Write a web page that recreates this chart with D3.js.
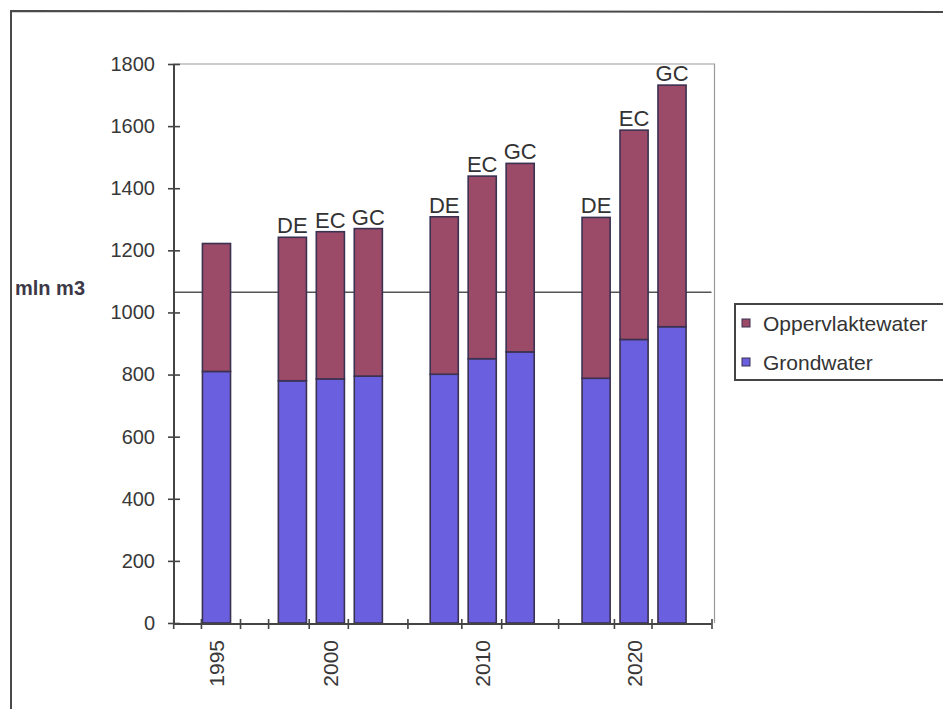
<!DOCTYPE html>
<html>
<head>
<meta charset="utf-8">
<script src="https://cdn.jsdelivr.net/npm/d3@7"></script>
<style>
  html, body { margin: 0; padding: 0; background: #fff; }
  svg { display: block; font-family: "Liberation Sans", Arial, sans-serif; }
</style>
</head>
<body>
<svg id="chart" width="943" height="709"></svg>
<script>
// Water demand per scenario (mln m3); empty slots separate the year groups.
const years      = ["1995", "", "", "2000", "", "", "", "2010", "", "", "", "2020", ""];
const scenarios  = ["", "", "DE", "EC", "GC", "", "DE", "EC", "GC", "", "DE", "EC", "GC"];
const grondwater = [810, null, 780, 786, 795, null, 801, 851, 873, null, 788, 913, 954];
const oppervlaktewater = [412, null, 462, 474, 475, null, 507, 588, 607, null, 518, 674, 778];
const yTicks = [0, 200, 400, 600, 800, 1000, 1200, 1400, 1600, 1800];
// x-axis tick marks, in category-slot units
const xTicks = [-0.64, 0.09, 1.12, 1.86, 2.93, 3.96, 5.53, 6.95, 8.0, 9.5, 10.97, 11.96, 13.54];
const referenceLevel = 1065;
const seriesNames = ["Oppervlaktewater", "Grondwater"];
const seriesColors = ["#9b4a68", "#6a5fde"];

const svg = d3.select("#chart");
const n = years.length;

const plotLeft = 197.5, plotRight = 691;
const slot = d3.scaleLinear().domain([0, n]).range([plotLeft, plotRight]);
const x = d3.scaleBand().domain(d3.range(n)).range([plotLeft, plotRight])
  .paddingInner(0.26).paddingOuter(0.13);
const y = d3.scaleLinear().domain([0, 1800]).range([623, 64]);

const axisX = 173;
const axisEnd = slot(xTicks[xTicks.length - 1]);

// outer frame
svg.append("path")
  .attr("d", "M11,709 L11,11 L943,12")
  .attr("fill", "none").attr("stroke", "#4a4a4a").attr("stroke-width", 2);

// plot area border (top and right)
svg.append("path")
  .attr("d", `M${axisX},${y(1800)} L${axisEnd + 3},${y(1800)} L${axisEnd + 3},${y(0)}`)
  .attr("fill", "none").attr("stroke", "#9a9a9a").attr("stroke-width", 1.2);

// reference level line
svg.append("line")
  .attr("x1", axisX).attr("x2", axisEnd)
  .attr("y1", y(referenceLevel)).attr("y2", y(referenceLevel))
  .attr("stroke", "#555").attr("stroke-width", 1.6);

// stacked bars
const rows = d3.range(n).filter(i => grondwater[i] != null).map(i => ({
  i, g: grondwater[i], o: oppervlaktewater[i]
}));
const bars = svg.append("g").attr("stroke", "#3b3150").attr("stroke-width", 1.6);
bars.selectAll("rect.g").data(rows).join("rect").attr("class", "g")
  .attr("x", d => x(d.i)).attr("width", x.bandwidth())
  .attr("y", d => y(d.g)).attr("height", d => y(0) - y(d.g))
  .attr("fill", seriesColors[1]);
bars.selectAll("rect.o").data(rows).join("rect").attr("class", "o")
  .attr("x", d => x(d.i)).attr("width", x.bandwidth())
  .attr("y", d => y(d.g + d.o)).attr("height", d => y(d.g) - y(d.g + d.o))
  .attr("fill", seriesColors[0]);

// scenario labels above bars
svg.append("g").selectAll("text").data(rows.filter(d => scenarios[d.i]))
  .join("text")
  .attr("x", d => x(d.i) + x.bandwidth() / 2)
  .attr("y", d => y(d.g + d.o) - 4)
  .attr("text-anchor", "middle")
  .attr("font-size", 22).attr("fill", "#333")
  .text(d => scenarios[d.i]);

// y axis
const gy = svg.append("g").attr("transform", `translate(${axisX + 1},0)`)
  .call(d3.axisLeft(y).tickValues(yTicks).tickFormat(d3.format("d")).tickSize(6).tickPadding(13));
gy.select(".domain").attr("stroke", "#444").attr("stroke-width", 2).attr("d", `M0,${y(0)}V${y(1800)}`);
gy.selectAll(".tick line").attr("x1", -6).attr("x2", 6).attr("stroke", "#444").attr("stroke-width", 1.6);
gy.selectAll(".tick text").attr("font-size", 20).attr("fill", "#383838")
  .attr("font-family", "Liberation Sans, Arial, sans-serif");

// x axis
const gx = svg.append("g").attr("transform", `translate(0,${y(0) + 1})`)
  .call(d3.axisBottom(slot).tickValues(xTicks).tickFormat("").tickSize(5));
gx.select(".domain").attr("stroke", "#444").attr("stroke-width", 2)
  .attr("d", `M${axisX},0H${axisEnd}`);
gx.selectAll(".tick line").attr("y1", -5).attr("y2", 5).attr("stroke", "#444").attr("stroke-width", 1.6);

// year labels, rotated
svg.append("g").selectAll("text").data(d3.range(n).filter(i => years[i]))
  .join("text")
  .attr("transform", i => `translate(${x(i) + x.bandwidth() / 2},640) rotate(-90)`)
  .attr("text-anchor", "end").attr("dominant-baseline", "central")
  .attr("font-size", 21).attr("fill", "#383838")
  .text(i => years[i]);

// y axis title
svg.append("text")
  .attr("x", 15).attr("y", 295)
  .attr("font-size", 20).attr("font-weight", "bold").attr("fill", "#3d3848")
  .text("mln m3");

// legend
const lg = svg.append("g").attr("transform", "translate(735,304)");
lg.append("rect").attr("x", 0).attr("y", 0).attr("width", 220).attr("height", 76)
  .attr("fill", "#fff").attr("stroke", "#444").attr("stroke-width", 2);
seriesNames.forEach((name, k) => {
  const cy = 19 + k * 39;
  lg.append("rect").attr("x", 7).attr("y", cy - 4).attr("width", 8).attr("height", 8)
    .attr("fill", seriesColors[k]).attr("stroke", "#3b3150").attr("stroke-width", 1);
  lg.append("text").attr("x", 28).attr("y", cy).attr("dominant-baseline", "central")
    .attr("font-size", 21).attr("fill", "#333").text(name);
});
</script>
</body>
</html>
